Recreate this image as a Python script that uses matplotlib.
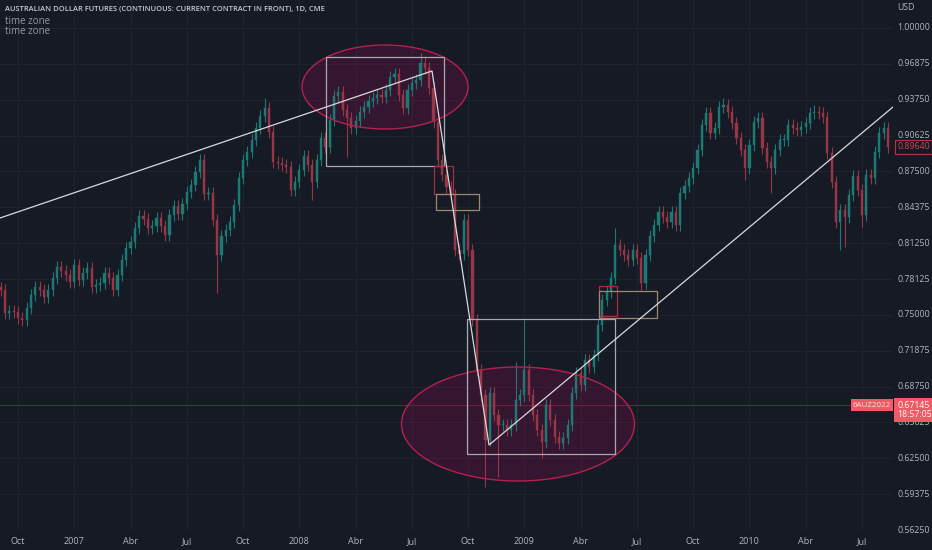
import matplotlib
matplotlib.use("Agg")
import matplotlib.pyplot as plt
from matplotlib.patches import Ellipse, Rectangle
import numpy as np

# weekly closes (week 0 = early Sep 2006)
closes = [
    0.7717, 0.7516, 0.7534, 0.7525, 0.7473, 0.7455, 0.7560, 0.7673, 0.7743, 0.7717,
    0.7656, 0.7717, 0.7821, 0.7917, 0.7882, 0.7848, 0.7787, 0.7935, 0.7804, 0.7865,
    0.7909, 0.7743, 0.7760, 0.7778, 0.7865, 0.7821, 0.7717, 0.7848, 0.7978, 0.8083,
    0.8135, 0.8257, 0.8362, 0.8336, 0.8257, 0.8275, 0.8344, 0.8275, 0.8196, 0.8370,
    0.8449, 0.8379, 0.8466, 0.8571, 0.8632, 0.8745, 0.8850, 0.8553, 0.8562, 0.8327,
    0.8022, 0.8187, 0.8240, 0.8309, 0.8458, 0.8693, 0.8850, 0.8919, 0.9024, 0.9129,
    0.9233, 0.9303, 0.9094, 0.8832, 0.8824, 0.8806, 0.8789, 0.8588, 0.8658, 0.8763,
    0.8885, 0.8806, 0.8658, 0.8850, 0.9041, 0.8963, 0.9198, 0.9407, 0.9442, 0.9285,
    0.9216, 0.9129, 0.9190, 0.9268, 0.9312, 0.9364, 0.9390, 0.9416, 0.9399, 0.9460,
    0.9573, 0.9599, 0.9416, 0.9303, 0.9460, 0.9521, 0.9547, 0.9695, 0.9651, 0.9477,
    0.9181, 0.8850, 0.8719, 0.8614, 0.8545, 0.8065, 0.8031, 0.8327, 0.8065, 0.7455,
    0.7020, 0.6802, 0.6410, 0.6819, 0.6627, 0.6540, 0.6540, 0.6497, 0.6540, 0.6758,
    0.6802, 0.7020, 0.6802, 0.6627, 0.6497, 0.6392, 0.6715, 0.6584, 0.6436, 0.6383,
    0.6427, 0.6540, 0.6819, 0.6994, 0.6889, 0.7107, 0.7046, 0.7150, 0.7412, 0.7630,
    0.7699, 0.7821, 0.8109, 0.8065, 0.8022, 0.7978, 0.8065, 0.7996, 0.7778, 0.8022,
    0.8187, 0.8283, 0.8397, 0.8353, 0.8309, 0.8397, 0.8283, 0.8562, 0.8623, 0.8693,
    0.8780, 0.8937, 0.9155, 0.9259, 0.9085, 0.9129, 0.9312, 0.9329, 0.9268, 0.9172,
    0.9041, 0.8937, 0.8780, 0.8980, 0.9181, 0.9216, 0.8954, 0.8832, 0.8780, 0.8937,
    0.9024, 0.9024, 0.9155, 0.9129, 0.9111, 0.9137, 0.9172, 0.9259, 0.9268, 0.9259,
    0.9224, 0.8911, 0.8658, 0.8309, 0.8414, 0.8353, 0.8545, 0.8710, 0.8588, 0.8370,
    0.8719, 0.8693, 0.8919, 0.9085, 0.9129, 0.8964,
]
first_open = 0.7740

# notable wick extremes (week -> price)
spike_lows = {50: 0.7691, 72: 0.8501, 80: 0.8876, 112: 0.6000, 115: 0.6087,
              125: 0.6253, 148: 0.7717, 172: 0.8675, 178: 0.8562, 194: 0.8065,
              195: 0.8092, 199: 0.8266}
spike_highs = {46: 0.8867, 61: 0.9390, 97: 0.9782, 119: 0.7089, 121: 0.7455,
               142: 0.8257, 167: 0.9390, 188: 0.9329, 204: 0.9172}

tick_weeks = [4, 17, 30, 43, 56, 69, 82, 95, 108, 121, 134, 147, 160, 173, 186, 199]
tick_names = ["Oct", "2007", "Abr", "Jul", "Oct", "2008", "Abr", "Jul", "Oct",
              "2009", "Abr", "Jul", "Oct", "2010", "Abr", "Jul"]
price_ticks = [1.0, 0.96875, 0.9375, 0.90625, 0.875, 0.84375, 0.8125, 0.78125,
               0.75, 0.71875, 0.6875, 0.65625, 0.625, 0.59375, 0.5625]

title = "AUSTRALIAN DOLLAR FUTURES (CONTINUOUS: CURRENT CONTRACT IN FRONT), 1D, CME"
last_price = 0.8964
contract_price = 0.67145

BG = "#161a25"
GRID = "#1f2330"
TXT = "#b2b5be"
UP = "#1b7a72"
DOWN = "#963646"

W, H = 932, 550
fig = plt.figure(figsize=(W / 100, H / 100), dpi=100, facecolor=BG)
ax = fig.add_axes([0, 20 / H, 893 / W, 530 / H])
ax.set_facecolor(BG)

# pixel helpers for the drawn objects
px_per_week = 4.328
def wx(x):
    return (x - 0.7) / px_per_week
def py(y):
    return 1.0244 - y / 1147.5

ax.set_xlim(wx(0), wx(893))
ax.set_ylim(py(530), py(0))

for t in tick_weeks:
    ax.axvline(t, color=GRID, lw=0.8, zorder=0)
for p in price_ticks:
    ax.axhline(p, color=GRID, lw=0.8, zorder=0)
ax.axhline(py(529.5), color="#262a36", lw=1.0, zorder=0)

# candles
closes = np.array(closes)
opens = np.concatenate([[first_open], closes[:-1]])
weeks = np.arange(len(closes))
pad = 0.005
highs = np.maximum(opens, closes) + pad
lows = np.minimum(opens, closes) - pad
for k, v in spike_lows.items():
    lows[k] = min(lows[k], v)
for k, v in spike_highs.items():
    highs[k] = max(highs[k], v)
colors = np.where(closes >= opens, UP, DOWN)
ax.vlines(weeks, lows, highs, colors=colors, lw=0.8, zorder=2)
bodies = np.maximum(np.abs(closes - opens), 0.0008)
ax.bar(weeks, bodies, bottom=np.minimum(opens, closes), width=0.5,
       color=colors, edgecolor=colors, lw=0.3, zorder=3)

# contract price line
ax.axhline(contract_price, color="#6b2530", lw=0.8, zorder=1)

# ellipses
for cx, cy, ew, eh in [(385, 87, 166, 84), (518, 424, 233, 114)]:
    c = (wx(cx), py(cy))
    ax.add_patch(Ellipse(c, ew / px_per_week, eh / 1147.5, facecolor="#880e4f",
                         alpha=0.28, edgecolor="none", zorder=1))
    ax.add_patch(Ellipse(c, ew / px_per_week, eh / 1147.5, facecolor="none",
                         edgecolor="#b5204f", lw=1.0, zorder=4))

# boxes
boxes = [
    (326, 57, 444, 166, "#a7a9b0"),
    (434, 166, 453, 194, "#a3303f"),
    (436, 194, 479, 210, "#9c8a6c"),
    (467, 319, 615, 454, "#a7a9b0"),
    (599, 286, 617, 316, "#a3303f"),
    (599, 291, 657, 318, "#9c8a6c"),
]
for x0, y0, x1, y1, col in boxes:
    ax.add_patch(Rectangle((wx(x0), py(y1)), wx(x1) - wx(x0), py(y0) - py(y1),
                           fill=False, edgecolor=col, lw=0.9, zorder=5))

# trend lines
pts = [(0, 218), (432, 71), (489, 445), (893, 107)]
ax.plot([wx(p[0]) for p in pts], [py(p[1]) for p in pts], color="#d8d9dd",
        lw=0.9, zorder=6, solid_joinstyle="miter")

for s in ax.spines.values():
    s.set_visible(False)
ax.set_xticks([])
ax.set_yticks([])

font = "Open Sans"
# x labels
for t, n in zip(tick_weeks, tick_names):
    fig.text((0.7 + t * px_per_week) / W, 1 - 542 / H, n, color=TXT, fontsize=6.5,
             ha="center", va="center", family=font)

# price labels
def fy(y):
    return 1 - y / H
for p in price_ticks:
    y = (1.0244 - p) * 1147.5
    fig.text(897 / W, fy(y), f"{p:.5f}", color=TXT, fontsize=6.3, ha="left",
             va="center", family=font)
fig.text(897 / W, fy(8), "USD", color=TXT, fontsize=6.3, ha="left", va="center", family=font)

# last price tag
yl = (1.0244 - last_price) * 1147.5
fig.text(897 / W, fy(yl), f"{last_price:.5f}", color="#d9434f", fontsize=6.3,
         ha="left", va="center", family=font,
         bbox=dict(boxstyle="square,pad=0.25", fc=BG, ec="#b83440", lw=0.8))

# contract tags
yc = (1.0244 - contract_price) * 1147.5
fig.text(897 / W, fy(yc + 5), f"{contract_price:.5f}\n18:57:05", color="white",
         fontsize=6.3, ha="left", va="center", family=font, linespacing=1.05,
         bbox=dict(boxstyle="square,pad=0.3", fc="#f05a64", ec="none"))
fig.text(891 / W, fy(yc), "6AUZ2022", color="#ffe0e3", fontsize=5.8, ha="right",
         va="center", family=font,
         bbox=dict(boxstyle="square,pad=0.25", fc="#f05a64", ec="none"))

# header
fig.text(5 / W, fy(10), title, color="#c8cad0", fontsize=5.4, ha="left",
         va="center", family=font, fontweight="semibold")
fig.text(5 / W, fy(21), "time zone", color="#9598a1", fontsize=7.0, ha="left",
         va="center", family=font)
fig.text(5 / W, fy(32), "time zone", color="#9598a1", fontsize=7.0, ha="left",
         va="center", family=font)

fig.savefig("out.png", dpi=100, facecolor=BG)
